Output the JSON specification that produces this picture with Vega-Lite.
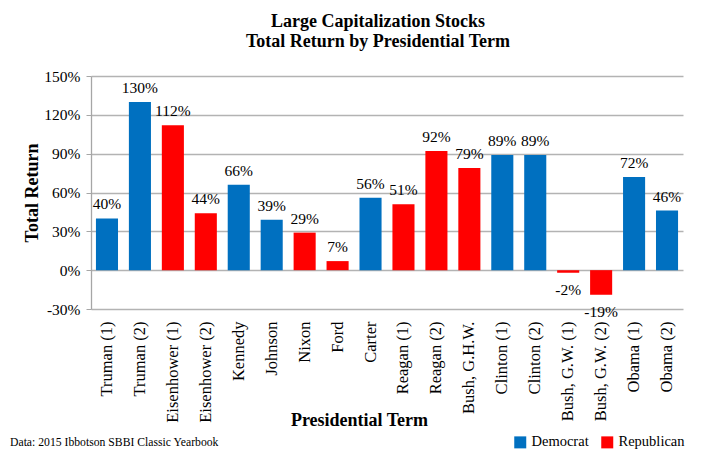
{
  "$schema": "https://vega.github.io/schema/vega-lite/v6.json",
  "width": 592,
  "height": 233,
  "autosize": {"type": "none"},
  "padding": {"left": 91, "top": 76, "right": 24, "bottom": 144},
  "background": "white",
  "title": {
    "text": ["Large Capitalization Stocks", "Total Return by Presidential Term"],
    "font": "Liberation Serif",
    "fontSize": 18,
    "fontWeight": "bold",
    "color": "#000000",
    "anchor": "middle",
    "dx": -9,
    "lineHeight": 20,
    "offset": 18
  },
  "config": {
    "view": {"stroke": null},
    "locale": {"number": {"decimal": ".", "thousands": ",", "grouping": [3], "currency": ["$", ""], "minus": "-"}},
    "font": "Liberation Serif"
  },
  "data": {
    "values": [
      {"term": "Truman (1)", "party": "Democrat", "ret": 0.40},
      {"term": "Truman (2)", "party": "Democrat", "ret": 1.30},
      {"term": "Eisenhower (1)", "party": "Republican", "ret": 1.12},
      {"term": "Eisenhower (2)", "party": "Republican", "ret": 0.44},
      {"term": "Kennedy", "party": "Democrat", "ret": 0.66},
      {"term": "Johnson", "party": "Democrat", "ret": 0.39},
      {"term": "Nixon", "party": "Republican", "ret": 0.29},
      {"term": "Ford", "party": "Republican", "ret": 0.07},
      {"term": "Carter", "party": "Democrat", "ret": 0.56},
      {"term": "Reagan (1)", "party": "Republican", "ret": 0.51},
      {"term": "Reagan (2)", "party": "Republican", "ret": 0.92},
      {"term": "Bush, G.H.W.", "party": "Republican", "ret": 0.79},
      {"term": "Clinton (1)", "party": "Democrat", "ret": 0.89},
      {"term": "Clinton (2)", "party": "Democrat", "ret": 0.89},
      {"term": "Bush, G.W. (1)", "party": "Republican", "ret": -0.02},
      {"term": "Bush, G.W. (2)", "party": "Republican", "ret": -0.19},
      {"term": "Obama (1)", "party": "Democrat", "ret": 0.72},
      {"term": "Obama (2)", "party": "Democrat", "ret": 0.46}
    ]
  },
  "encoding": {
    "x": {
      "field": "term",
      "type": "nominal",
      "sort": null,
      "scale": {"paddingInner": 0.33, "paddingOuter": 0.15},
      "axis": {
        "title": "Presidential Term",
        "titleFont": "Liberation Serif",
        "titleFontSize": 18,
        "titleFontWeight": "bold",
        "titleColor": "#000000",
        "titleX": 268,
        "titleY": 102,
        "labelAngle": -90,
        "labelFont": "Liberation Serif",
        "labelFontSize": 16.5,
        "labelColor": "#000000",
        "labelPadding": 12,
        "labelLimit": 200,
        "domain": false,
        "ticks": false,
        "grid": false
      }
    },
    "y": {
      "field": "ret",
      "type": "quantitative",
      "scale": {"domain": [-0.3, 1.5], "nice": false, "zero": false},
      "axis": {
        "title": "Total Return",
        "titleFont": "Liberation Serif",
        "titleFontSize": 18,
        "titleFontWeight": "bold",
        "titleColor": "#000000",
        "titlePadding": 2,
        "values": [-0.3, 0, 0.3, 0.6, 0.9, 1.2, 1.5],
        "format": ".0%",
        "labelFont": "Liberation Serif",
        "labelFontSize": 15.5,
        "labelColor": "#000000",
        "labelPadding": 6,
        "tickSize": 5,
        "tickColor": "#a6a6a6",
        "domainColor": "#a6a6a6",
        "domainWidth": 1.3,
        "gridColor": "#b3b3b3",
        "gridWidth": 1.3,
        "grid": true
      }
    }
  },
  "layer": [
    {
      "mark": {"type": "bar"},
      "encoding": {
        "color": {
          "field": "party",
          "type": "nominal",
          "scale": {"domain": ["Democrat", "Republican"], "range": ["#0070C0", "#FF0000"]},
          "legend": {
            "orient": "none",
            "legendX": -81,
            "legendY": 359,
            "direction": "horizontal",
            "title": "Data: 2015 Ibbotson SBBI Classic Yearbook",
            "titleOrient": "left",
            "titleFont": "Liberation Serif",
            "titleFontSize": 11.7,
            "titleFontWeight": "normal",
            "titleColor": "#000000",
            "titlePadding": 294,
            "titleLimit": 400,
            "symbolType": "square",
            "symbolSize": 144,
            "symbolStrokeWidth": 0,
            "labelFont": "Liberation Serif",
            "labelFontSize": 14.5,
            "labelOffset": 4,
            "labelColor": "#000000",
            "columnPadding": 11
          }
        }
      }
    },
    {
      "transform": [{"filter": "datum.ret >= 0"}],
      "mark": {"type": "text", "baseline": "bottom", "dy": -6, "fontSize": 15.5, "font": "Liberation Serif", "color": "#000000"},
      "encoding": {"text": {"field": "ret", "type": "quantitative", "format": ".0%"}}
    },
    {
      "transform": [{"filter": "datum.ret < 0"}],
      "mark": {"type": "text", "baseline": "top", "dy": 10, "fontSize": 15.5, "font": "Liberation Serif", "color": "#000000"},
      "encoding": {"text": {"field": "ret", "type": "quantitative", "format": ".0%"}}
    }
  ]
}
